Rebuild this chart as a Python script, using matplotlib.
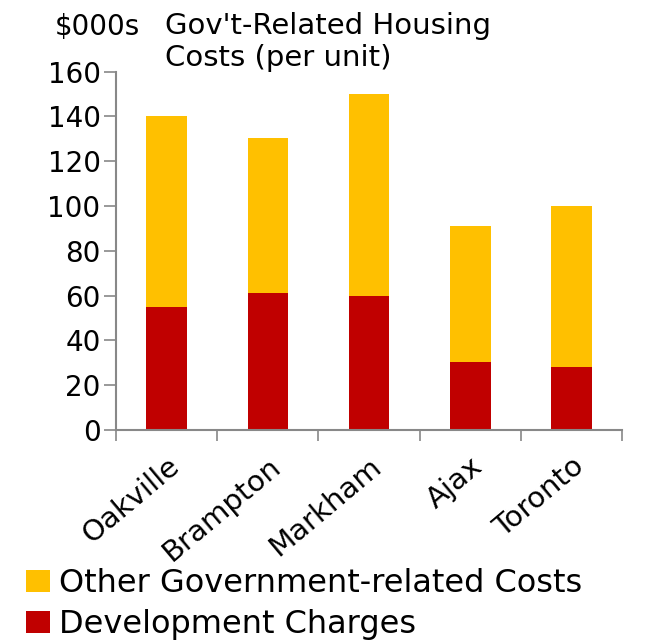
import matplotlib
matplotlib.use("Agg")
import matplotlib.pyplot as plt
import numpy as np

# data ($000s per unit)
cities = ["Oakville", "Brampton", "Markham", "Ajax", "Toronto"]
dev_charges = [55, 61, 60, 30.5, 28]
other_costs = [85, 69.5, 90, 60.5, 72]
y_ticks = [0, 20, 40, 60, 80, 100, 120, 140, 160]

YELLOW = "#FFC000"
RED = "#C00000"
AXIS = "#888888"

plt.rcParams['font.family'] = ['DejaVu Sans']

fig = plt.figure(figsize=(6.62, 6.4), dpi=100)
ax = fig.add_axes([0.175, 0.328, 0.765, 0.56])

x = np.arange(len(cities))
ax.bar(x, dev_charges, width=0.4, color=RED, label="Development Charges")
ax.bar(x, other_costs, width=0.4, bottom=dev_charges, color=YELLOW,
       label="Other Government-related Costs")

ax.set_xlim(-0.5, len(cities) - 0.5)
ax.set_ylim(0, 160)
ax.set_yticks(y_ticks)
ax.tick_params(axis='y', labelsize=20, length=9, width=1.2, color=AXIS, pad=2)

# category ticks sit between the bars, labels at the bar centres
ax.set_xticks(np.arange(len(cities) + 1) - 0.5)
ax.set_xticklabels([])
ax.set_xticks(x, minor=True)
ax.set_xticklabels(cities, minor=True, rotation=40, ha='right',
                   rotation_mode='anchor', fontsize=21)
ax.tick_params(axis='x', which='major', length=8, width=1.2, color=AXIS)
ax.tick_params(axis='x', which='minor', length=0, pad=16)

for s in ['top', 'right']:
    ax.spines[s].set_visible(False)
for s in ['left', 'bottom']:
    ax.spines[s].set_color(AXIS)
    ax.spines[s].set_linewidth(1.5)

fig.text(0.083, 0.958, "\\$000s", fontsize=20, va='center')
fig.text(0.249, 0.982, "Gov't-Related Housing\nCosts (per unit)", fontsize=21,
         va='top', ha='left', linespacing=1.2)

h, l = ax.get_legend_handles_labels()
fig.legend(h[::-1], l[::-1], loc='lower left', bbox_to_anchor=(0.01, -0.03),
           frameon=False, fontsize=23, handlelength=0.75, handleheight=0.7,
           handletextpad=0.3, labelspacing=0.3, borderaxespad=0.2)

fig.savefig("out.png", dpi=100)
